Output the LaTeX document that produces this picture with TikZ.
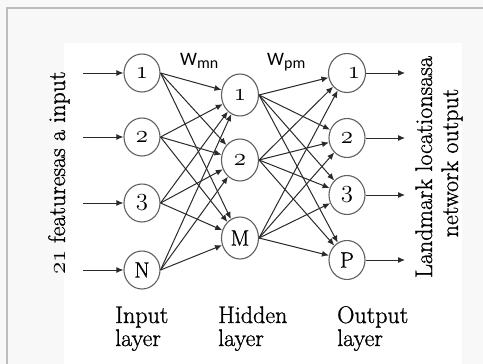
\documentclass[tikz,border=0pt]{standalone}
\usepackage{fontspec}
\setmainfont{Latin Modern Roman}[FakeBold=1]
\newfontfamily\wfont{Carlito}
\usetikzlibrary{shapes.geometric,arrows.meta}
\newcommand\osf[1]{{\fontsize{25}{27}\usefont{OML}{lmm}{b}{it}#1}}
\definecolor{edgec}{HTML}{2A2A2A}
\definecolor{ringc}{HTML}{606060}
\definecolor{pagec}{HTML}{F8F8F8}
\definecolor{framec}{HTML}{BDBDBD}
\begin{document}
\begin{tikzpicture}[x=1pt,y=-1pt,
  neuron/.style={draw=ringc, ellipse, inner sep=0pt, line width=1.1pt, fill=white,
    font=\fontsize{22}{24}\selectfont},
  inneuron/.style={neuron, minimum width=36pt, minimum height=38pt},
  hidneuron/.style={neuron, minimum width=37pt, minimum height=42pt},
  outneuron/.style={neuron, minimum width=36pt, minimum height=39pt},
  conn/.style={draw=edgec, line width=1pt, -{Latex[length=7pt,width=6pt]}},
  bigtext/.style={inner sep=0pt, font=\fontsize{24}{28}\selectfont},
  wlabel/.style={inner sep=0pt, anchor=base west, font=\wfont\fontsize{19}{20}\selectfont}
]
\fill[pagec] (0,0) rectangle (483,364);
\useasboundingbox (0,0) rectangle (483,364);
\fill[white] (64,43) rectangle (462,364);
\draw[framec, line width=1.3pt] (7,364) -- (7,8) -- (483,8);

% input layer
\node[inneuron] (i1) at (142,73) {\osf{1}};
\node[inneuron] (i2) at (142,137) {\osf{2}};
\node[inneuron] (i3) at (142,203) {\osf{3}};
\node[inneuron] (iN) at (142,270) {N};
% hidden layer
\node[hidneuron] (h1) at (240,95) {\osf{1}};
\node[hidneuron] (h2) at (240,160) {\osf{2}};
\node[hidneuron] (hM) at (240,238) {M};
% output layer
\node[outneuron] (o1) at (347,73) {\hspace*{14pt}\osf{1}};
\node[outneuron] (o2) at (347,138) {\osf{2}};
\node[outneuron] (o3) at (347,195) {\osf{3}};
\node[outneuron] (oP) at (347,260) {P};

% free ends
\coordinate (s1) at (83,73);
\coordinate (s2) at (83,137);
\coordinate (s3) at (83,203);
\coordinate (sN) at (83,270);
\coordinate (e1) at (405,73);
\coordinate (e2) at (405,138);
\coordinate (e3) at (405,195);
\coordinate (eP) at (405,260);

\foreach \n in {1,2,3,N} \draw[conn] (s\n) -- (i\n);
\foreach \n in {1,2,3,P} \draw[conn] (o\n) -- (e\n);

\foreach \a in {i1,i2,i3,iN}
  \foreach \b in {h1,h2,hM}
    \draw[conn] (\a.east) -- (\b);
\foreach \a in {h1,h2,hM}
  \foreach \b in {o1,o2,o3,oP}
    \draw[conn] (\a.east) -- (\b);

% weight labels
\node[wlabel] (wmn) at (180,65) {W\raisebox{-3pt}{\fontsize{16}{17}\selectfont mn}};
\node[wlabel] (wpm) at (267,65) {W\raisebox{-3pt}{\fontsize{16}{17}\selectfont pm}};

% side labels
\node[bigtext, rotate=90, anchor=base] (inlab) at (65,173) {{\fontsize{29}{30}\usefont{OML}{lmm}{m}{it}21} featuresas a input};
\node[bigtext, rotate=90, anchor=base] (outlab1) at (432,167) {Landmark locationsasa};
\node[bigtext, rotate=90, anchor=base] (outlab2) at (458,163) {network output};

% layer labels
\node[bigtext, anchor=base west] (inl1) at (115,323) {Input};
\node[bigtext, anchor=base west] (inl2) at (115,346) {layer};
\node[bigtext, anchor=base west] (hil1) at (218,323) {Hidden};
\node[bigtext, anchor=base west] (hil2) at (218,346) {layer};
\node[bigtext, anchor=base west] (oul1) at (337,323) {Output};
\node[bigtext, anchor=base west] (oul2) at (337,346) {layer};
\end{tikzpicture}
\end{document}
